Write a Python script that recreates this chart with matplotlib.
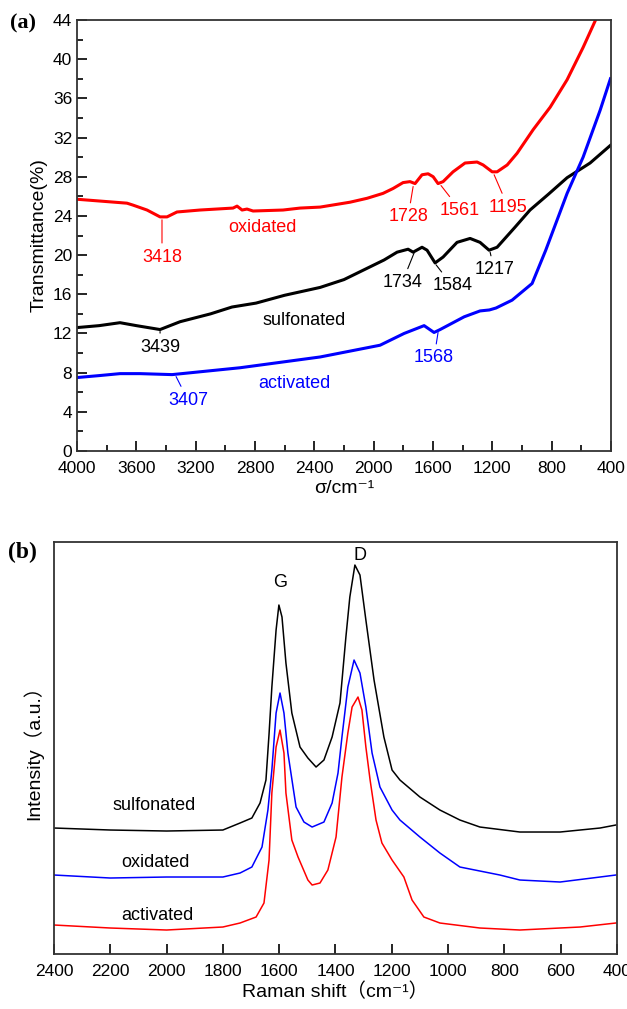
import matplotlib.pyplot as plt
import numpy as np

plt.rcParams['font.family'] = ['Liberation Sans', 'Noto Sans CJK SC', 'DejaVu Sans']

# ---- FTIR spectra (wavenumber cm-1, transmittance %) ----
ox_wn = [4000, 3663, 3622, 3528, 3440, 3393, 3326, 3171, 2948, 2921, 2887, 2854, 2813,
         2611, 2496, 2361, 2159, 2044, 1937, 1869, 1802, 1755, 1721, 1674, 1633,
         1599, 1566, 1532, 1465, 1384, 1303, 1262, 1201, 1168, 1100, 1033, 925, 810,
         696, 588, 507, 470]
ox_t = [25.7, 25.3, 25.1, 24.6, 23.9, 23.9, 24.4, 24.6, 24.8, 25.0, 24.6, 24.7, 24.5,
        24.6, 24.8, 24.9, 25.4, 25.8, 26.3, 26.8, 27.4, 27.5, 27.3, 28.2, 28.3,
        28.0, 27.3, 27.5, 28.5, 29.4, 29.5, 29.2, 28.5, 28.5, 29.2, 30.4, 32.8, 35.1,
        37.9, 41.2, 43.9, 45.5]

sul_wn = [4000, 3850, 3710, 3600, 3440, 3305, 3100, 2955, 2793, 2600, 2361, 2200, 2092,
          1930, 1842, 1768, 1734, 1674, 1640, 1586, 1532, 1438, 1350, 1283, 1222,
          1168, 1050, 946, 823, 696, 541, 404]
sul_t = [12.6, 12.8, 13.1, 12.8, 12.4, 13.2, 14.0, 14.7, 15.1, 15.9, 16.7, 17.5, 18.3,
         19.5, 20.3, 20.6, 20.3, 20.8, 20.5, 19.2, 19.8, 21.3, 21.7, 21.3, 20.5,
         20.8, 22.8, 24.6, 26.2, 27.9, 29.4, 31.2]

act_wn = [4000, 3850, 3710, 3575, 3359, 2901, 2361, 1957, 1795, 1660, 1593, 1552, 1390,
          1283, 1220, 1175, 1067, 932, 840, 696, 588, 473, 404]
act_t = [7.5, 7.7, 7.9, 7.9, 7.8, 8.5, 9.6, 10.8, 12.0, 12.8, 12.1, 12.4, 13.7,
         14.3, 14.4, 14.6, 15.4, 17.1, 20.5, 26.3, 30.0, 34.8, 38.0]

# ---- Raman spectra (shift cm-1, intensity a.u.) ----
sul_r = [2400, 2200, 2000, 1800, 1739, 1697, 1668, 1647, 1636, 1626, 1611, 1601, 1590,
         1576, 1555, 1526, 1498, 1469, 1441, 1412, 1384, 1363, 1349, 1331, 1313, 1292,
         1263, 1228, 1199, 1171, 1100, 1029, 958, 887, 745, 602, 460, 404]
sul_i = [126, 124, 123, 124, 131, 136, 151, 174, 220, 267, 324, 349, 337,
         291, 241, 207, 196, 187, 194, 217, 251, 317, 357, 389, 379, 334,
         274, 217, 184, 174, 157, 144, 134, 127, 122, 122, 126, 129]

oxi_r = [2400, 2200, 2000, 1800, 1739, 1697, 1661, 1640, 1626, 1611, 1597, 1583, 1569,
         1540, 1512, 1483, 1441, 1412, 1391, 1377, 1356, 1334, 1313, 1292, 1270, 1242,
         1199, 1171, 1100, 1029, 958, 816, 745, 602, 460, 404]
oxi_i = [79, 76, 77, 77, 81, 87, 107, 144, 184, 241, 261, 241, 201,
         147, 132, 127, 132, 151, 181, 217, 267, 294, 281, 247, 201, 167,
         144, 134, 117, 101, 87, 79, 74, 72, 77, 79]

act_r = [2400, 2200, 2000, 1800, 1739, 1682, 1654, 1636, 1626, 1611, 1597, 1583, 1576,
         1555, 1533, 1498, 1483, 1455, 1427, 1398, 1377, 1356, 1341, 1320, 1306, 1292,
         1277, 1256, 1235, 1199, 1157, 1128, 1086, 1029, 887, 745, 531, 404]
act_i = [29, 26, 24, 27, 31, 37, 51, 94, 161, 207, 224, 201, 161,
         114, 97, 74, 69, 71, 84, 117, 177, 221, 247, 257, 244, 207,
         174, 134, 111, 94, 77, 54, 37, 31, 26, 24, 27, 31]

fig = plt.figure(figsize=(6.27, 10.09), dpi=100)

# (a) FTIR
ax1 = fig.add_axes([0.1228, 0.553, 0.8517, 0.4272])
ax1.plot(ox_wn, ox_t, color='#ff0000', lw=2.2)
ax1.plot(sul_wn, sul_t, color='black', lw=2.2)
ax1.plot(act_wn, act_t, color='#0000ff', lw=2.2)
ax1.set_xlim(4000, 400)
ax1.set_ylim(0, 44)
ax1.set_xticks(np.arange(4000, 399, -400))
ax1.set_xticks(np.arange(3800, 399, -400), minor=True)
ax1.set_yticks(np.arange(0, 45, 4))
ax1.set_yticks(np.arange(2, 45, 4), minor=True)
ax1.tick_params(which='both', direction='in', top=False, right=False, labelsize=12.5)
ax1.tick_params(which='major', length=7, width=1.2)
ax1.tick_params(which='minor', length=4, width=1.2)
ax1.tick_params(axis='x', pad=7)
ax1.set_ylabel('Transmittance(%)', fontsize=14, labelpad=4)
ax1.set_xlabel('σ/cm⁻¹', fontsize=14, labelpad=3)


def label(ax, txt, xy, xytext, color):
    ax.annotate(txt, xy=xy, xytext=xytext, color=color, fontsize=13,
                ha='center', va='center',
                arrowprops=dict(arrowstyle='-', color=color, lw=0.8,
                                shrinkA=2, shrinkB=0))


label(ax1, '3418', (3427, 23.6), (3427, 19.8), '#ff0000')
label(ax1, '1728', (1734, 27.0), (1768, 23.9), '#ff0000')
label(ax1, '1561', (1546, 27.1), (1417, 24.6), '#ff0000')
label(ax1, '1195', (1188, 28.2), (1094, 24.9), '#ff0000')
label(ax1, '1734', (1728, 20.2), (1808, 17.2), 'black')
label(ax1, '1584', (1579, 19.0), (1471, 16.9), 'black')
label(ax1, '1217', (1215, 20.3), (1188, 18.5), 'black')
label(ax1, '3439', (3440, 12.2), (3440, 10.6), 'black')
label(ax1, '3407', (3332, 7.6), (3252, 5.2), '#0000ff')
label(ax1, '1568', (1566, 12.1), (1593, 9.5), '#0000ff')
ax1.text(2752, 22.8, 'oxidated', color='#ff0000', fontsize=13, ha='center', va='center')
ax1.text(2469, 13.3, 'sulfonated', color='black', fontsize=13, ha='center', va='center')
ax1.text(2537, 6.9, 'activated', color='#0000ff', fontsize=13, ha='center', va='center')
fig.text(0.016, 0.977, '(a)', family='Liberation Serif', weight='bold', fontsize=16,
         va='center')

# (b) Raman
ax2 = fig.add_axes([0.0861, 0.0545, 0.8979, 0.4083])
ax2.plot(sul_r, sul_i, color='black', lw=1.1)
ax2.plot(oxi_r, oxi_i, color='#0000ff', lw=1.1)
ax2.plot(act_r, act_i, color='#ff0000', lw=1.1)
ax2.set_xlim(2400, 400)
ax2.set_ylim(0, 412)
ax2.set_xticks(np.arange(2400, 399, -200))
ax2.set_yticks([])
ax2.tick_params(direction='in', length=7, width=1.2, labelsize=12.5, top=False, pad=7)
ax2.set_ylabel('Intensity（a.u.）', fontsize=14, labelpad=8)
ax2.set_xlabel('Raman shift（cm⁻¹）', fontsize=14, labelpad=3)
ax2.text(1597, 372, 'G', fontsize=13, ha='center', va='center')
ax2.text(1313, 399, 'D', fontsize=13, ha='center', va='center')
ax2.text(2045, 149, 'sulfonated', fontsize=13, ha='center', va='center')
ax2.text(2038, 92, 'oxidated', fontsize=13, ha='center', va='center')
ax2.text(2031, 39, 'activated', fontsize=13, ha='center', va='center')
fig.text(0.013, 0.452, '(b)', family='Liberation Serif', weight='bold', fontsize=17,
         va='center')

for ax in (ax1, ax2):
    for s in ax.spines.values():
        s.set_linewidth(1.3)
        s.set_color('#333333')

fig.savefig('out.png', dpi=100)
